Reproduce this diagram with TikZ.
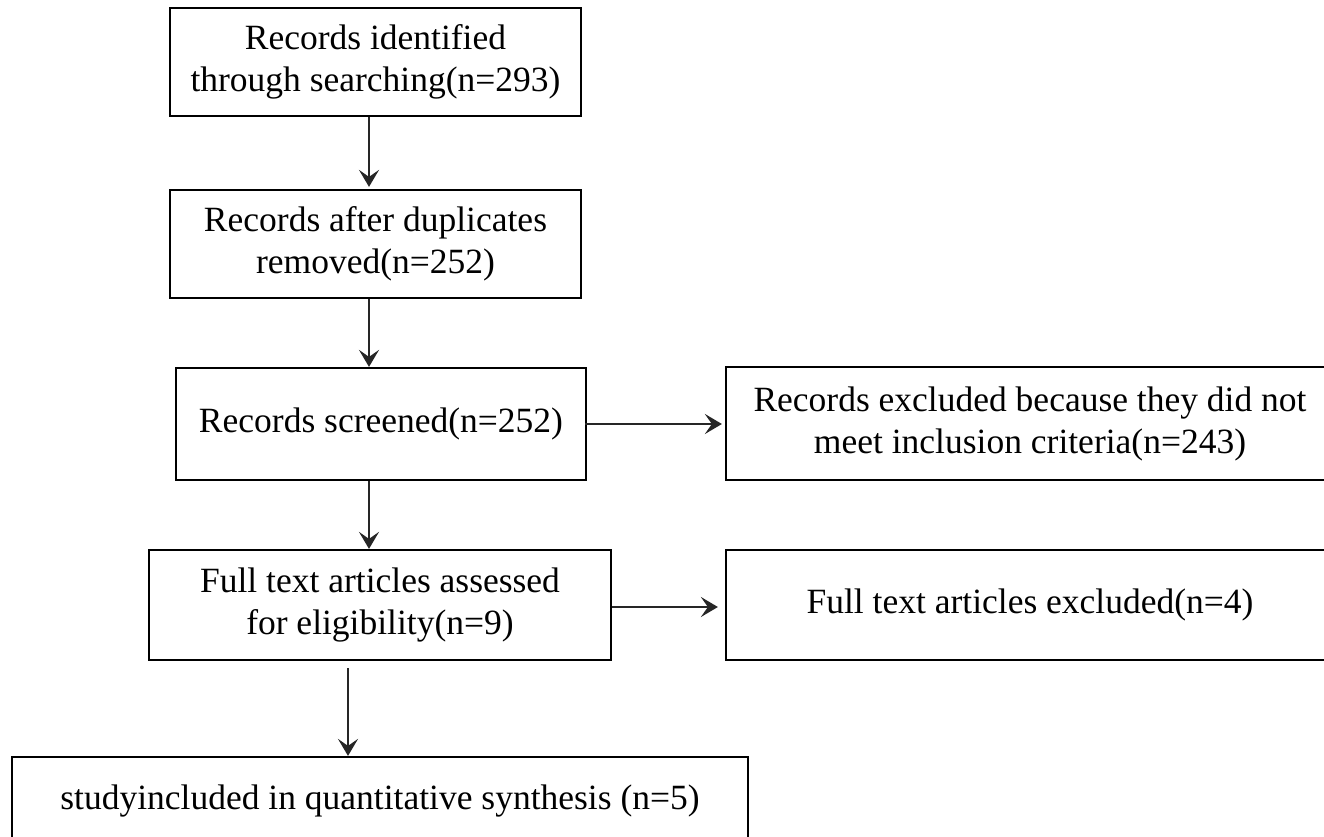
\documentclass[tikz,border=0pt]{standalone}
\usepackage{fontspec}
\setmainfont{Liberation Serif}
\usetikzlibrary{arrows.meta}
\begin{document}
\begin{tikzpicture}[x=1pt,y=-1pt,
  box/.style={draw=black, line width=2.2pt, rectangle, inner sep=0pt, align=center,
    font=\fontsize{35.5}{42}\selectfont},
  arr/.style={draw=black!85, line width=2.8pt, -{Stealth[length=17pt,width=20pt,inset=7pt]}}]
\useasboundingbox (0,0) rectangle (1324,837);
\begin{scope}
\clip (0,0) rectangle (1324,837);
\node[box, minimum width=411pt, minimum height=108pt] (b1) at (375.5,62) {Records identified\\through searching(n=293)};
\node[box, minimum width=411pt, minimum height=108pt] (b2) at (375.5,244) {Records after duplicates\\removed(n=252)};
\node[box, minimum width=410pt, minimum height=112pt] (b3) at (381,424) {Records screened(n=252)};
\node[box, minimum width=608pt, minimum height=113pt] (b4) at (1030,423.5) {Records excluded because they did not\\meet inclusion criteria(n=243)};
\node[box, minimum width=462pt, minimum height=110pt] (b5) at (380,605) {Full text articles assessed\\for eligibility(n=9)};
\node[box, minimum width=608pt, minimum height=110pt] (b6) at (1030,605) {Full text articles excluded(n=4)};
\node[box, minimum width=736pt, minimum height=88pt] (b7) at (380,801) {studyincluded in quantitative synthesis (n=5)};
\end{scope}
\coordinate (c1) at (369,0);
\coordinate (c2) at (348,0);
\draw[arr] (b1.south -| c1) -- ([yshift=2pt]b2.north -| c1);
\draw[arr] (b2.south -| c1) -- ([yshift=0pt]b3.north -| c1);
\draw[arr] (b3.south -| c1) -- ([yshift=0pt]b5.north -| c1);
\draw[arr] ([yshift=-7pt]b5.south -| c2) -- ([yshift=0pt]b7.north -| c2);
\draw[arr] ([xshift=-2pt]b3.east) -- ([xshift=-3pt]b4.west |- b3.east);
\draw[arr] ([yshift=-2pt]b5.east) -- ([xshift=-7pt,yshift=-2pt]b6.west |- b5.east);
\end{tikzpicture}
\end{document}
